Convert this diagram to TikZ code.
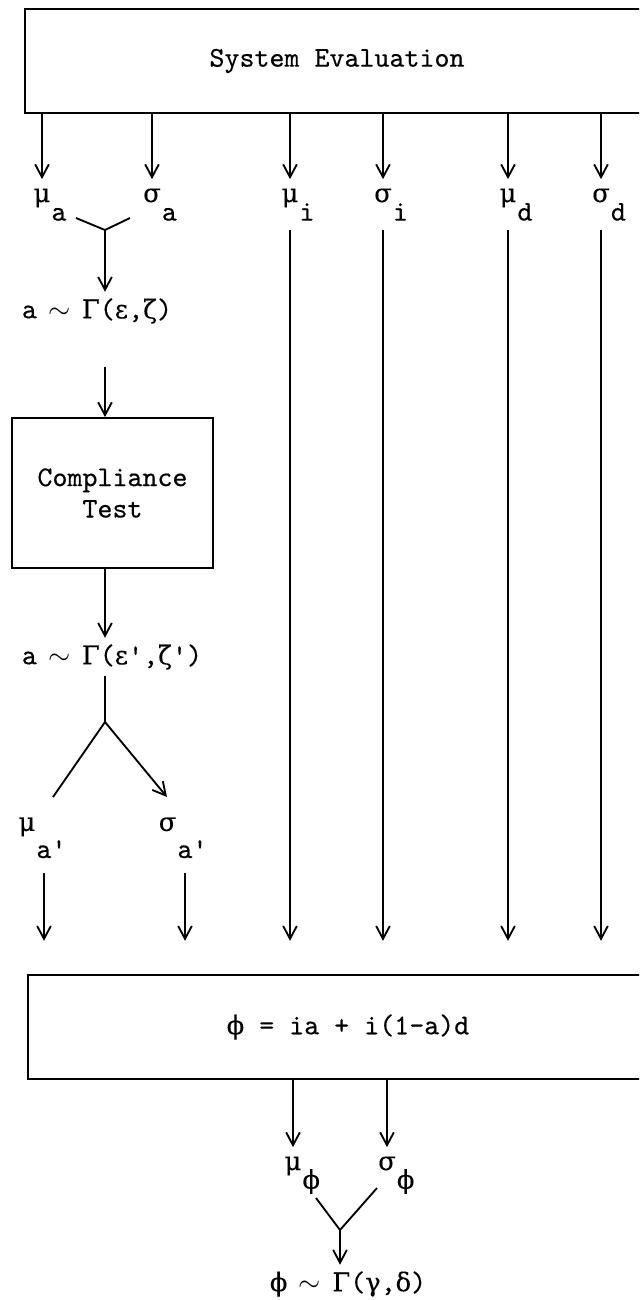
\documentclass[tikz,border=0pt]{standalone}
\usepackage{fontspec}
\usepackage{tikz}
\usetikzlibrary{arrows.meta}
\setmonofont{lmmono10-regular.otf}[FakeBold=0.4]
\newfontfamily\grk[Scale=0.9,FakeBold=0.3]{DejaVu Serif}
\newcommand{\glab}[3]{{\grk #1}\rlap{\hspace{0.4pt}\raisebox{-#3}{#2}}}
\newcommand{\gprime}[1]{\llap{\raisebox{9.5pt}{\grk #1}\hspace{0.4pt}}a\rlap{'}}
\newcommand{\tld}{\makebox[5.25pt]{$\sim$}}

\begin{document}
\begin{tikzpicture}[>={Straight Barb[length=4.5pt,width=4.8pt]},x=0.35pt,y=-0.35pt,
  line width=0.65pt,font=\ttfamily,
  openbox/.style={inner sep=0pt,minimum height=35.7pt},
  labl/.style={inner sep=3pt,anchor=base},
  formula/.style={inner sep=2pt}]
  \useasboundingbox (0,0) rectangle (639,1300);
  \clip (0,0) rectangle (639,1300);
  % top box, open on the right
  \node[openbox,minimum width=217.7pt] (sys) at (337,61) {System Evaluation};
  \draw (sys.north east) -- (sys.north west) -- (sys.south west) -- (sys.south east);
  \foreach \n/\x/\g/\s in {mua/42/μ/a,sga/152/σ/a,mui/290/μ/i,sgi/383/σ/i,mud/508/μ/d,sgd/601/σ/d}{
    \node[labl] (\n) at (\x,202) {\glab{\g}{\s}{6.5pt}};
    \draw[->] (sys.south -| \n) -- (\n.north);
  }
  % the a branch
  \coordinate (ja) at (105,230);
  \draw (ja) -- +(-29,-12) (ja) -- +(25,-12);
  \node[formula] (ga) at (97,311) {a \tld{} {\grk Γ}({\grk ε},{\grk ζ})};
  \draw[->] (ja) -- (ja |- ga.north);
  \node[draw,minimum width=70.35pt,minimum height=52.5pt,align=center] (comp) at (112.5,493) {Compliance\\[-1pt]Test};
  \draw[->,shorten <=13pt] (ja |- ga.south) -- (ja |- comp.north);
  \node[formula] (gb) at (112,657) {a \tld{} {\grk Γ}({\grk ε}',{\grk ζ}')};
  \draw[->] (ja |- comp.south) -- (ja |- gb.north);
  \coordinate (fk) at (105,722);
  \draw (ja |- gb.south) -- (fk) -- +(-52,75);
  \draw[->] (fk) -- +(62,75);
  \node[labl] (mup) at (44,858) {\gprime{μ}};
  \node[labl] (sgp) at (185,858) {\gprime{σ}};
  % bottom box, open on the right
  \node[openbox,minimum width=223.3pt] (frm) at (348,1027) {{\grk ϕ} = ia + i(1-a)d};
  \draw (frm.north east) -- (frm.north west) -- (frm.south west) -- (frm.south east);
  \foreach \n in {mup,sgp} \draw[->,shorten <=2pt,shorten >=12pt] (\n.south) -- (\n |- frm.north);
  \foreach \n in {mui,sgi,mud,sgd} \draw[->,shorten >=12pt] (\n.south) -- (\n |- frm.north);
  % phi
  \node[labl] (muf) at (293,1170) {\glab{μ}{\grk ϕ}{6.5pt}};
  \node[labl] (sgf) at (387,1170) {\glab{σ}{\grk ϕ}{6.5pt}};
  \foreach \n in {muf,sgf} \draw[->] (frm.south -| \n) -- (\n.north);
  \coordinate (jp) at (340,1230);
  \draw (jp) -- +(-24,-32) (jp) -- +(37,-42);
  \node[formula] (gc) at (348,1284) {{\grk ϕ} \tld{} {\grk Γ}({\grk γ},{\grk δ})};
  \draw[->] (jp) -- (jp |- gc.north);
\end{tikzpicture}
\end{document}
